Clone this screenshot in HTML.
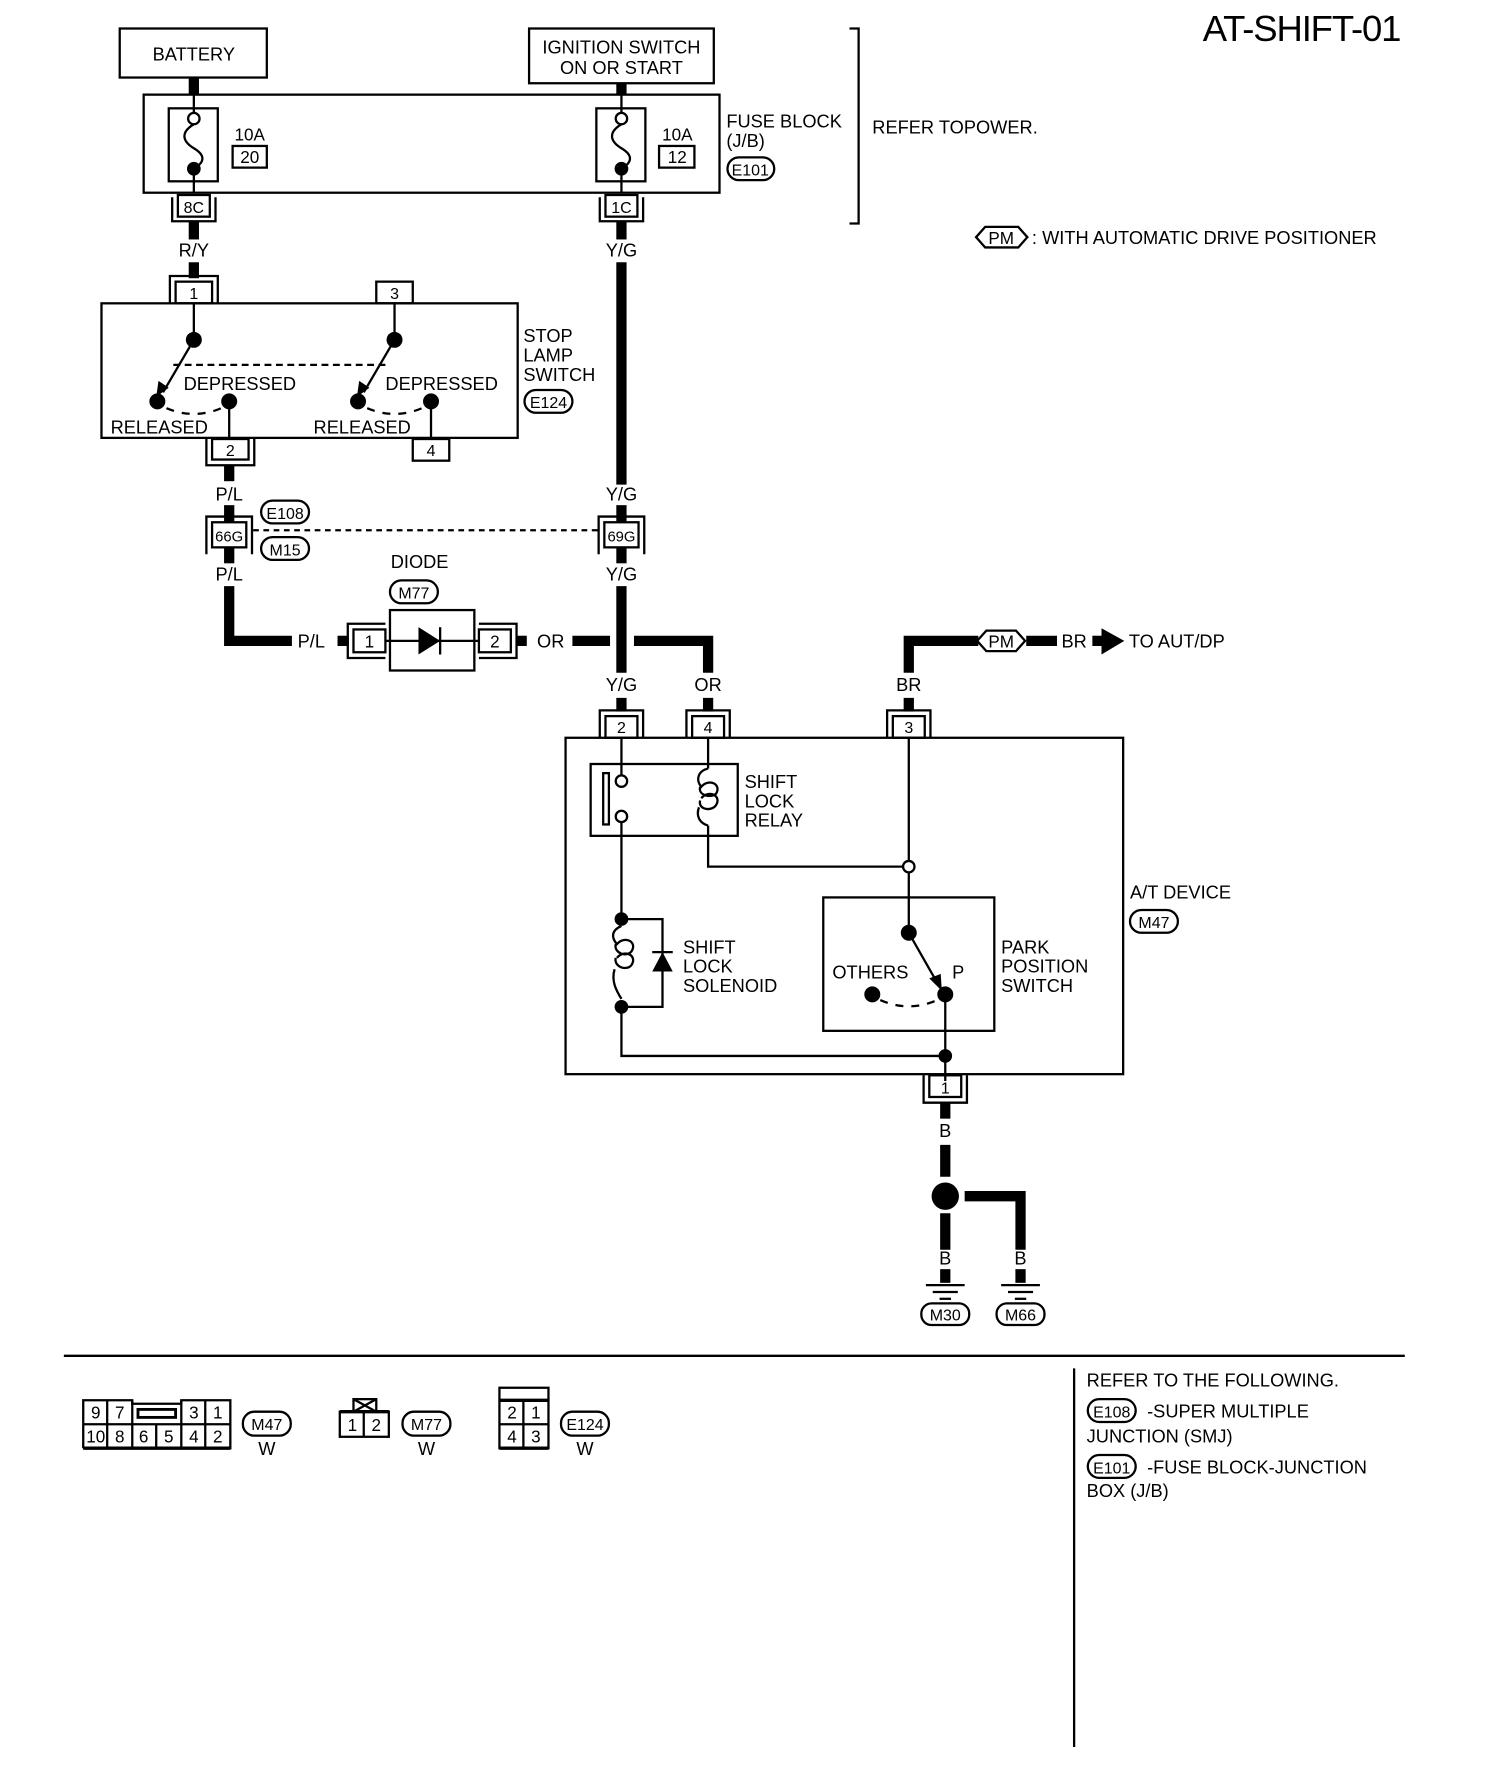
<!DOCTYPE html>
<html><head><meta charset="utf-8"><style>
html,body{margin:0;padding:0;background:#fff;}
svg{display:block;}
text{font-family:"Liberation Sans",sans-serif;fill:#000;}
</style></head><body>
<svg width="1504" height="1788" viewBox="0 0 1319 1568" preserveAspectRatio="none" xmlns="http://www.w3.org/2000/svg">
<g fill="none" stroke="#000" stroke-width="2">
<!-- title -->
</g>
<text x="1228" y="36" font-size="32" text-anchor="end" letter-spacing="-1">AT-SHIFT-01</text>

<!-- battery / ignition -->
<g fill="none" stroke="#000" stroke-width="2">
<rect x="105" y="25" width="129" height="43"/>
<rect x="464" y="25" width="162" height="48"/>
<rect x="126" y="83" width="505" height="86"/>
<rect x="148" y="95" width="43" height="64"/>
<rect x="523" y="95" width="43" height="64"/>
<rect x="204" y="128" width="30" height="19"/>
<rect x="578" y="128" width="31" height="19"/>
<polyline points="745,25 753,25 753,196 745,196"/>
<!-- fuses -->
<line x1="170" y1="83" x2="170" y2="99"/><circle cx="170" cy="104" r="5"/>
<path d="M170,109 C158,116 160,124 170,130 C180,136 180,142 170,148"/>
<line x1="170" y1="148" x2="170" y2="169"/>
<line x1="545" y1="83" x2="545" y2="99"/><circle cx="545" cy="104" r="5"/>
<path d="M545,109 C533,116 535,124 545,130 C555,136 555,142 545,148"/>
<line x1="545" y1="148" x2="545" y2="169"/>
</g>
<circle cx="170" cy="148" r="6"/><circle cx="545" cy="148" r="6"/>
<g stroke="#000" stroke-width="9" fill="none">
<line x1="170" y1="68" x2="170" y2="83"/>
<line x1="545" y1="73" x2="545" y2="83"/>
</g>
<text x="170" y="53" font-size="16" text-anchor="middle">BATTERY</text>
<text x="545" y="47" font-size="16" text-anchor="middle">IGNITION SWITCH</text>
<text x="545" y="65" font-size="16" text-anchor="middle">ON OR START</text>
<text x="219" y="123" font-size="15" text-anchor="middle">10A</text>
<text x="219" y="143" font-size="15" text-anchor="middle">20</text>
<text x="594" y="123" font-size="15" text-anchor="middle">10A</text>
<text x="594" y="143" font-size="15" text-anchor="middle">12</text>
<text x="637" y="112" font-size="16">FUSE BLOCK</text>
<text x="637" y="129" font-size="16">(J/B)</text>
<rect x="638" y="138" width="41" height="20" rx="10" fill="none" stroke="#000" stroke-width="2"/>
<text x="658" y="154" font-size="14" text-anchor="middle">E101</text>
<text x="765" y="117" font-size="16">REFER TOPOWER.</text>
<polygon points="856,208 864,199 893,199 901,208 893,217 864,217" fill="none" stroke="#000" stroke-width="2"/>
<text x="878" y="214" font-size="15" text-anchor="middle">PM</text>
<text x="905" y="214" font-size="16">: WITH AUTOMATIC DRIVE POSITIONER</text>

<!-- connectors 8C / 1C -->
<g fill="none" stroke="#000" stroke-width="2">
<rect x="156" y="171" width="28" height="19"/><polyline points="151,173 151,194 189,194 189,173"/>
<rect x="531" y="171" width="28" height="19"/><polyline points="526,173 526,194 564,194 564,173"/>
</g>
<text x="170" y="187" font-size="14" text-anchor="middle">8C</text>
<text x="545" y="187" font-size="14" text-anchor="middle">1C</text>
<g stroke="#000" stroke-width="9" fill="none">
<line x1="170" y1="194" x2="170" y2="210"/>
<line x1="545" y1="194" x2="545" y2="210"/>
<line x1="545" y1="230" x2="545" y2="425"/>
<line x1="170" y1="230" x2="170" y2="244"/>
</g>
<text x="170" y="225" font-size="16" text-anchor="middle">R/Y</text>
<text x="545" y="225" font-size="16" text-anchor="middle">Y/G</text>

<!-- stop lamp switch -->
<g fill="none" stroke="#000" stroke-width="2">
<rect x="154" y="247" width="32" height="19"/><polyline points="149,266 149,242 191,242 191,266"/>
<rect x="330" y="247" width="32" height="19"/>
<rect x="89" y="266" width="365" height="118"/>
<line x1="170" y1="266" x2="170" y2="298"/>
<line x1="346" y1="266" x2="346" y2="298"/>
<line x1="170" y1="298" x2="143" y2="344"/>
<line x1="346" y1="298" x2="319" y2="344"/>
<line x1="152" y1="320" x2="338" y2="320" stroke-dasharray="6,4"/>
<path d="M146,358 Q170,368 194,358" stroke-dasharray="7,7"/>
<path d="M322,358 Q346,368 370,358" stroke-dasharray="7,7"/>
<line x1="201" y1="352" x2="201" y2="384"/>
<line x1="378" y1="352" x2="378" y2="384"/>
<rect x="186" y="385" width="32" height="18"/><polyline points="181,385 181,408 223,408 223,385"/>
<rect x="362" y="385" width="32" height="19"/>
</g>
<polygon points="137,348 139,334 148,340"/>
<polygon points="313,348 315,334 324,340"/>
<circle cx="170" cy="298" r="7"/><circle cx="346" cy="298" r="7"/>
<circle cx="138" cy="352" r="7"/><circle cx="201" cy="352" r="7"/>
<circle cx="314" cy="352" r="7"/><circle cx="378" cy="352" r="7"/>
<text x="170" y="262" font-size="14" text-anchor="middle">1</text>
<text x="346" y="262" font-size="14" text-anchor="middle">3</text>
<text x="202" y="400" font-size="14" text-anchor="middle">2</text>
<text x="378" y="400" font-size="14" text-anchor="middle">4</text>
<text x="161" y="342" font-size="16">DEPRESSED</text>
<text x="338" y="342" font-size="16">DEPRESSED</text>
<text x="97" y="380" font-size="16">RELEASED</text>
<text x="275" y="380" font-size="16">RELEASED</text>
<text x="459" y="300" font-size="16">STOP</text>
<text x="459" y="317" font-size="16">LAMP</text>
<text x="459" y="334" font-size="16">SWITCH</text>
<rect x="460" y="342" width="42" height="20" rx="10" fill="none" stroke="#000" stroke-width="2"/>
<text x="481" y="358" font-size="14" text-anchor="middle">E124</text>

<!-- P/L and junction -->
<g stroke="#000" stroke-width="9" fill="none">
<line x1="201" y1="408" x2="201" y2="422"/>
<line x1="201" y1="443" x2="201" y2="458"/>
<line x1="545" y1="443" x2="545" y2="458"/>
<line x1="201" y1="480" x2="201" y2="494"/>
<line x1="545" y1="480" x2="545" y2="494"/>
<polyline points="201,514 201,562 256,562"/>
<line x1="296" y1="562" x2="306" y2="562"/>
<line x1="453" y1="562" x2="462" y2="562"/>
<line x1="502" y1="562" x2="535" y2="562"/>
<line x1="545" y1="514" x2="545" y2="590"/>
<polyline points="556,562 621,562 621,590"/>
<line x1="545" y1="612" x2="545" y2="624"/>
<line x1="621" y1="612" x2="621" y2="624"/>
<line x1="797" y1="612" x2="797" y2="624"/>
<polyline points="797,590 797,562 858,562"/>
<line x1="900" y1="562" x2="927" y2="562"/>
<line x1="958" y1="562" x2="968" y2="562"/>
</g>
<polygon points="966,551 986,562 966,574"/>
<text x="201" y="439" font-size="16" text-anchor="middle">P/L</text>
<text x="545" y="439" font-size="16" text-anchor="middle">Y/G</text>
<text x="201" y="509" font-size="16" text-anchor="middle">P/L</text>
<text x="545" y="509" font-size="16" text-anchor="middle">Y/G</text>
<g fill="none" stroke="#000" stroke-width="2">
<rect x="186" y="458" width="30" height="22"/><polyline points="181,486 181,453 221,453 221,486"/>
<rect x="530" y="458" width="30" height="22"/><polyline points="525,486 525,453 565,453 565,486"/>
<line x1="222" y1="465" x2="525" y2="465" stroke-dasharray="5,4"/>
<rect x="229" y="439" width="42" height="20" rx="10"/>
<rect x="229" y="471" width="42" height="20" rx="10"/>
<rect x="342" y="509" width="42" height="20" rx="10"/>
<rect x="310" y="552" width="28" height="20"/><polyline points="338,547 305,547 305,577 338,577"/>
<rect x="420" y="552" width="28" height="20"/><polyline points="420,547 453,547 453,577 420,577"/>
<rect x="342" y="535" width="74" height="53"/>
<line x1="338" y1="562" x2="420" y2="562"/>
<line x1="386" y1="550" x2="386" y2="574"/>
</g>
<polygon points="367,550 386,562 367,574"/>
<text x="201" y="475" font-size="13" text-anchor="middle">66G</text>
<text x="545" y="475" font-size="13" text-anchor="middle">69G</text>
<text x="250" y="455" font-size="14" text-anchor="middle">E108</text>
<text x="250" y="487" font-size="14" text-anchor="middle">M15</text>
<text x="368" y="498" font-size="16" text-anchor="middle">DIODE</text>
<text x="363" y="525" font-size="14" text-anchor="middle">M77</text>
<text x="324" y="568" font-size="15" text-anchor="middle">1</text>
<text x="434" y="568" font-size="15" text-anchor="middle">2</text>
<text x="273" y="568" font-size="16" text-anchor="middle">P/L</text>
<text x="483" y="568" font-size="16" text-anchor="middle">OR</text>
<text x="545" y="606" font-size="16" text-anchor="middle">Y/G</text>
<text x="621" y="606" font-size="16" text-anchor="middle">OR</text>
<text x="797" y="606" font-size="16" text-anchor="middle">BR</text>
<polygon points="857,562 865,553 891,553 899,562 891,571 865,571" fill="#fff" stroke="#000" stroke-width="2"/>
<text x="878" y="568" font-size="15" text-anchor="middle">PM</text>
<text x="942" y="568" font-size="16" text-anchor="middle">BR</text>
<text x="990" y="568" font-size="16">TO AUT/DP</text>

<!-- A/T device -->
<g fill="none" stroke="#000" stroke-width="2">
<rect x="531" y="628" width="28" height="19"/><polyline points="526,647 526,623 564,623 564,647"/>
<rect x="607" y="628" width="28" height="19"/><polyline points="602,647 602,623 640,623 640,647"/>
<rect x="783" y="628" width="28" height="19"/><polyline points="778,647 778,623 816,623 816,647"/>
<rect x="496" y="647" width="489" height="295"/>
<rect x="518" y="670" width="129" height="63"/>
<rect x="529" y="678" width="5" height="45"/>
<line x1="545" y1="647" x2="545" y2="680"/>
<circle cx="545" cy="685" r="5"/><circle cx="545" cy="716" r="5"/>
<line x1="545" y1="721" x2="545" y2="806"/>
<line x1="621" y1="647" x2="621" y2="674"/>
<path d="M621,674 C612,676 610,684 615,690 C622,682 633,688 628,696 C624,700 612,698 614,690 M615,700 C622,692 633,698 628,706 C624,712 612,710 614,702 M613,708 C610,716 614,722 621,724"/>
<polyline points="621,724 621,760 792,760"/>
<circle cx="797" cy="760" r="5"/>
<line x1="797" y1="647" x2="797" y2="755"/>
<line x1="797" y1="765" x2="797" y2="818"/>
<polyline points="545,806 581,806 581,883 545,883"/>
<path d="M545,812 C536,816 536,822 541,828 C548,820 559,826 554,834 C550,840 538,836 540,828 M541,840 C548,832 559,838 554,846 C550,852 538,848 540,840 M539,850 C536,860 540,868 545,876"/>
<line x1="572" y1="835" x2="590" y2="835"/>
<polyline points="545,883 545,926 829,926"/>
<rect x="722" y="787" width="150" height="117"/>
<line x1="797" y1="818" x2="822" y2="862"/>
<path d="M772,877 Q797,888 822,877" stroke-dasharray="7,7"/>
<line x1="829" y1="872" x2="829" y2="948"/>
<rect x="815" y="943" width="28" height="19"/><polyline points="810,943 810,967 848,967 848,943"/>
</g>
<polygon points="572,852 590,852 581,835"/>
<polygon points="826,869 815,858 825,854"/>
<circle cx="545" cy="806" r="6"/><circle cx="545" cy="883" r="6"/>
<circle cx="797" cy="818" r="7"/><circle cx="765" cy="872" r="7"/><circle cx="829" cy="872" r="7"/>
<circle cx="829" cy="926" r="6"/>
<text x="545" y="643" font-size="14" text-anchor="middle">2</text>
<text x="621" y="643" font-size="14" text-anchor="middle">4</text>
<text x="797" y="643" font-size="14" text-anchor="middle">3</text>
<text x="829" y="959" font-size="14" text-anchor="middle">1</text>
<text x="653" y="691" font-size="16">SHIFT</text>
<text x="653" y="708" font-size="16">LOCK</text>
<text x="653" y="725" font-size="16">RELAY</text>
<text x="599" y="836" font-size="16">SHIFT</text>
<text x="599" y="853" font-size="16">LOCK</text>
<text x="599" y="870" font-size="16">SOLENOID</text>
<text x="730" y="858" font-size="16">OTHERS</text>
<text x="835" y="858" font-size="16">P</text>
<text x="878" y="836" font-size="16">PARK</text>
<text x="878" y="853" font-size="16">POSITION</text>
<text x="878" y="870" font-size="16">SWITCH</text>
<text x="991" y="788" font-size="16">A/T DEVICE</text>
<rect x="991" y="798" width="42" height="20" rx="10" fill="none" stroke="#000" stroke-width="2"/>
<text x="1012" y="814" font-size="14" text-anchor="middle">M47</text>

<!-- ground -->
<g stroke="#000" stroke-width="9" fill="none">
<line x1="829" y1="967" x2="829" y2="981"/>
<line x1="829" y1="1004" x2="829" y2="1032"/>
<line x1="829" y1="1064" x2="829" y2="1096"/>
<line x1="829" y1="1113" x2="829" y2="1125"/>
<polyline points="846,1049 895,1049 895,1096"/>
<line x1="895" y1="1113" x2="895" y2="1125"/>
</g>
<circle cx="829" cy="1049" r="12"/>
<g stroke="#000" stroke-width="2" fill="none">
<line x1="812" y1="1127" x2="846" y2="1127"/><line x1="818" y1="1133" x2="840" y2="1133"/><line x1="824" y1="1139" x2="834" y2="1139"/>
<line x1="878" y1="1127" x2="912" y2="1127"/><line x1="884" y1="1133" x2="906" y2="1133"/><line x1="890" y1="1139" x2="900" y2="1139"/>
<rect x="808" y="1143" width="42" height="19" rx="9"/>
<rect x="874" y="1143" width="42" height="19" rx="9"/>
</g>
<text x="829" y="997" font-size="16" text-anchor="middle">B</text>
<text x="829" y="1109" font-size="16" text-anchor="middle">B</text>
<text x="895" y="1109" font-size="16" text-anchor="middle">B</text>
<text x="829" y="1158" font-size="14" text-anchor="middle">M30</text>
<text x="895" y="1158" font-size="14" text-anchor="middle">M66</text>

<!-- footer -->
<line x1="56" y1="1189" x2="1232" y2="1189" stroke="#000" stroke-width="2"/>
<line x1="942" y1="1200" x2="942" y2="1532" stroke="#000" stroke-width="2"/>
<text x="953" y="1216" font-size="16">REFER TO THE FOLLOWING.</text>
<rect x="954" y="1227" width="42" height="20" rx="10" fill="none" stroke="#000" stroke-width="2"/>
<text x="975" y="1243" font-size="14" text-anchor="middle">E108</text>
<text x="1006" y="1243" font-size="16">-SUPER MULTIPLE</text>
<text x="953" y="1265" font-size="16">JUNCTION (SMJ)</text>
<rect x="954" y="1276" width="42" height="20" rx="10" fill="none" stroke="#000" stroke-width="2"/>
<text x="975" y="1292" font-size="14" text-anchor="middle">E101</text>
<text x="1006" y="1292" font-size="16">-FUSE BLOCK-JUNCTION</text>
<text x="953" y="1313" font-size="16">BOX (J/B)</text>

<!-- connector icons -->
<g fill="none" stroke="#000" stroke-width="2">
<polyline points="73,1270 73,1228 116,1228 116,1231 159,1231 159,1228 202,1228 202,1270 73,1270"/>
<line x1="73" y1="1249" x2="202" y2="1249"/>
<line x1="94" y1="1228" x2="94" y2="1270"/><line x1="116" y1="1228" x2="116" y2="1270"/>
<line x1="137" y1="1249" x2="137" y2="1270"/>
<line x1="159" y1="1228" x2="159" y2="1270"/><line x1="180" y1="1228" x2="180" y2="1270"/>
<rect x="121" y="1236" width="33" height="7" stroke-width="2.5"/>
<rect x="213" y="1238" width="42" height="21" rx="10"/>
<rect x="298" y="1238" width="43" height="22"/><line x1="319" y1="1238" x2="319" y2="1260"/>
<rect x="310" y="1227" width="20" height="11"/>
<line x1="310" y1="1227" x2="330" y2="1238"/><line x1="330" y1="1227" x2="310" y2="1238"/>
<rect x="353" y="1238" width="42" height="21" rx="10"/>
<rect x="438" y="1217" width="43" height="53"/>
<line x1="438" y1="1228" x2="481" y2="1228"/><line x1="438" y1="1249" x2="481" y2="1249"/>
<line x1="459" y1="1228" x2="459" y2="1270"/>
<rect x="492" y="1238" width="42" height="21" rx="10"/>
</g>
<line x1="73" y1="1270" x2="202" y2="1270" stroke="#000" stroke-width="3"/>
<line x1="298" y1="1238" x2="341" y2="1238" stroke="#000" stroke-width="3"/>
<line x1="438" y1="1228" x2="481" y2="1228" stroke="#000" stroke-width="3"/>
<line x1="438" y1="1270" x2="481" y2="1270" stroke="#000" stroke-width="3"/>
<g font-size="15" text-anchor="middle">
<text x="84" y="1244">9</text><text x="105" y="1244">7</text><text x="170" y="1244">3</text><text x="191" y="1244">1</text>
<text x="84" y="1265">10</text><text x="105" y="1265">8</text><text x="126" y="1265">6</text><text x="148" y="1265">5</text><text x="170" y="1265">4</text><text x="191" y="1265">2</text>
<text x="309" y="1255">1</text><text x="330" y="1255">2</text>
<text x="449" y="1244">2</text><text x="470" y="1244">1</text>
<text x="449" y="1265">4</text><text x="470" y="1265">3</text>
</g>
<g font-size="14" text-anchor="middle">
<text x="234" y="1254">M47</text><text x="374" y="1254">M77</text><text x="513" y="1254">E124</text>
</g>
<g font-size="16" text-anchor="middle">
<text x="234" y="1276">W</text><text x="374" y="1276">W</text><text x="513" y="1276">W</text>
</g>
</svg>
</body></html>
